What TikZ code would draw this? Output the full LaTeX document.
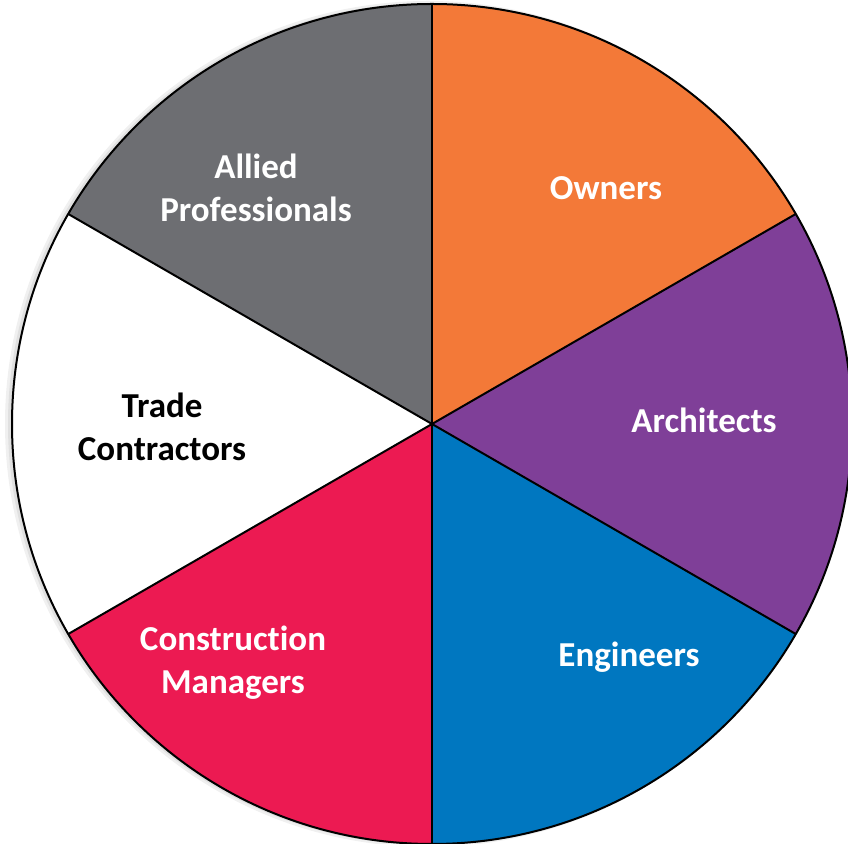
\documentclass[tikz,border=0pt]{standalone}
\usepackage{fontspec}
\setmainfont{Carlito}[Ligatures=NoCommon]
\definecolor{cOwn}{RGB}{243,121,56}
\definecolor{cArc}{RGB}{127,63,152}
\definecolor{cEng}{RGB}{0,119,192}
\definecolor{cCon}{RGB}{236,26,82}
\definecolor{cTra}{RGB}{255,255,255}
\definecolor{cAll}{RGB}{109,110,114}
\tikzset{
  slice/.style={draw=black, line width=2pt, line join=round},
  lbl/.style={font=\fontsize{35}{43}\selectfont\bfseries, align=center, inner sep=0pt},
}
\begin{document}
\begin{tikzpicture}[x=1pt,y=1pt]
\useasboundingbox (0,0) rectangle (848,843);
\clip (0,0) rectangle (848,843);
\coordinate (c) at (432,419);
\def\R{420}
\fill[black!6] (428,419) circle (423);
\fill[black!12] (429,419) circle (421);
\fill[cOwn] (c) -- ++(30:\R) arc (30:90:\R) -- cycle;
\fill[cArc] (c) -- ++(-30:\R) arc (-30:30:\R) -- cycle;
\fill[cEng] (c) -- ++(-90:\R) arc (-90:-30:\R) -- cycle;
\fill[cCon] (c) -- ++(210:\R) arc (210:270:\R) -- cycle;
\fill[cTra] (c) -- ++(150:\R) arc (150:210:\R) -- cycle;
\fill[cAll] (c) -- ++(90:\R) arc (90:150:\R) -- cycle;
\foreach \a in {30,90,150,210,270,330} \draw[slice] (c) -- ++(\a:\R);
\draw[slice] (c) circle (\R);
\node[lbl, text=white] (own) at (606,655) {Owners};
\node[lbl, text=white] (arc) at (704,423) {Architects};
\node[lbl, text=white] (eng) at (629,186) {Engineers};
\node[lbl, text=white] (con) at (233,180) {Construction\\Managers};
\node[lbl, text=black] (tra) at (162,416) {Trade\\Contractors};
\node[lbl, text=white] (all) at (256,655) {Allied\\Professionals};
\end{tikzpicture}
\end{document}
